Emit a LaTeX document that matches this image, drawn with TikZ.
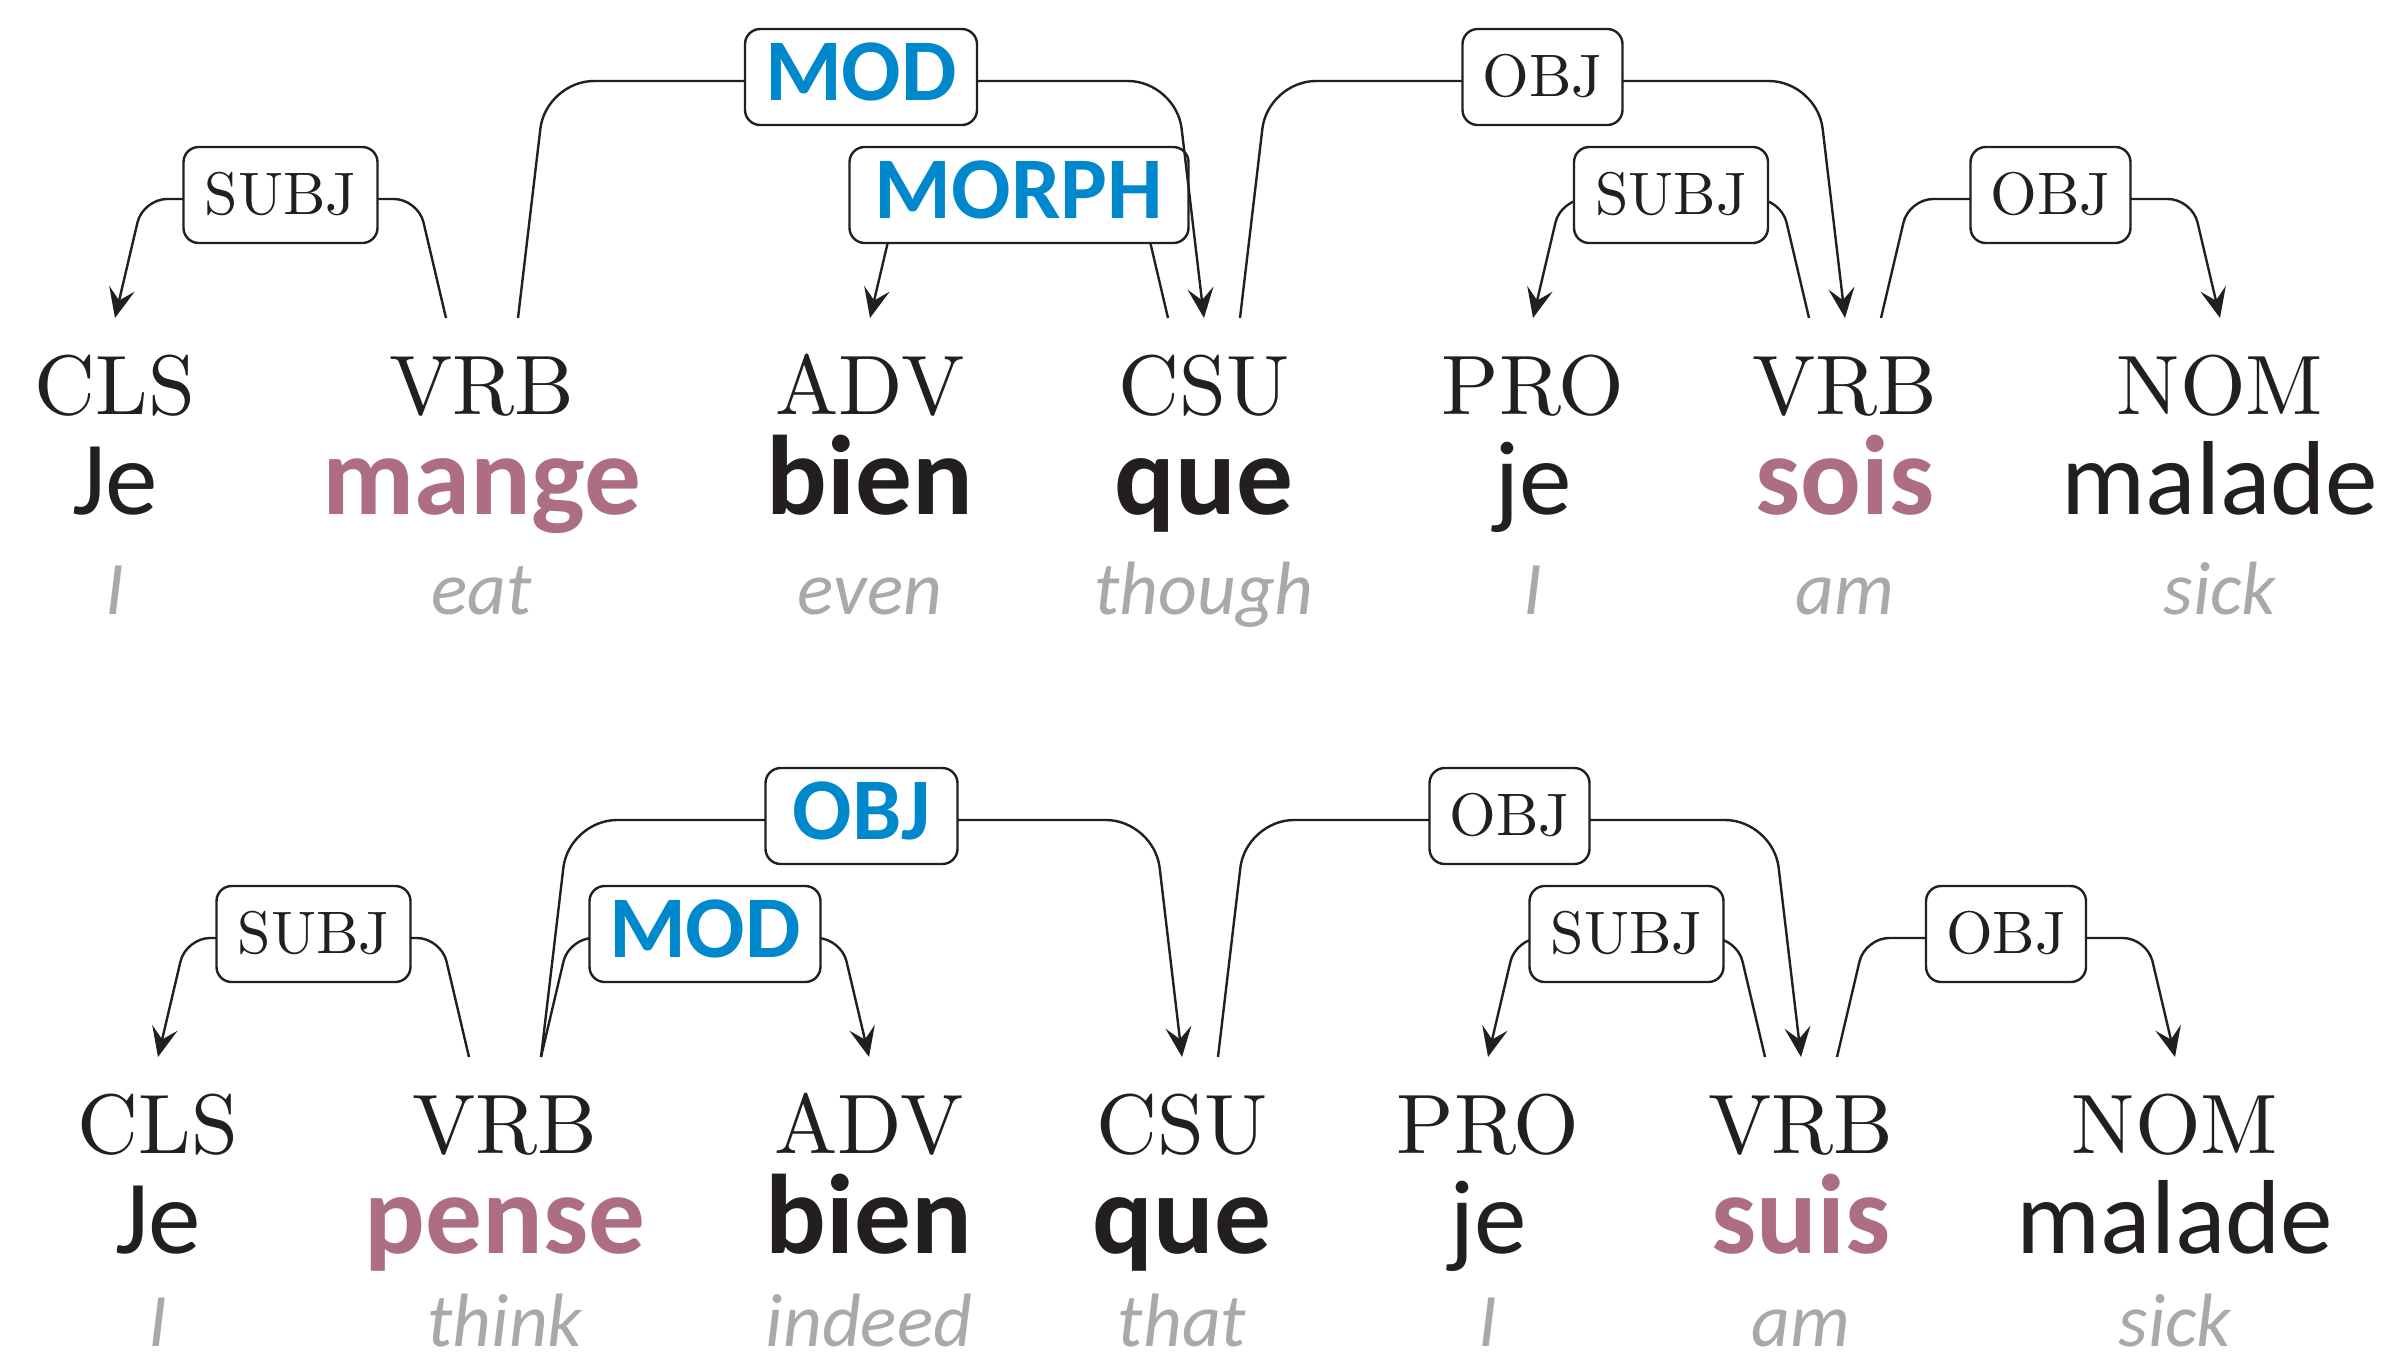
\documentclass[tikz,border=0pt]{standalone}
\usepackage{fontspec}
\usetikzlibrary{arrows.meta,calc}
\newfontfamily\wordfont{Carlito}
\definecolor{ink}{HTML}{231F20}
\definecolor{verbcol}{HTML}{AD6D82}
\definecolor{relblue}{HTML}{0088CC}
\definecolor{glosscol}{HTML}{A7A9AC}
% Latin Modern at its 10pt design, enlarged
\newcommand\tagtext[1]{\scalebox{2.11}{#1}}
\newcommand\labtext[1]{\scalebox{1.5}{#1}}
\tikzset{
  x=0.25pt, y=-0.25pt,
  tag/.style={anchor=base, inner sep=0pt, text=ink, font=\fontsize{10}{12}\selectfont},
  word/.style={anchor=base, inner sep=0pt, text=ink, font=\wordfont\fontsize{26.3}{32}\selectfont},
  headword/.style={word, font=\wordfont\bfseries\fontsize{28.3}{32}\selectfont},
  verbword/.style={headword, text=verbcol},
  glossword/.style={anchor=base, inner sep=0pt, text=glosscol, font=\wordfont\itshape\fontsize{18.9}{22}\selectfont},
  dep/.style={draw=ink, line width=0.6pt, -{Stealth[length=7.5pt,width=6.5pt,inset=3pt]}},
  lvlone/.style={rounded corners=6pt},
  lvltwo/.style={rounded corners=12pt},
  lab/.style={draw=ink, line width=0.6pt, fill=white, rounded corners=3.8pt,
    minimum height=24pt, inner xsep=0pt, inner ysep=0pt, text=ink,
    font=\fontsize{10}{12}\selectfont, text depth=1pt, yshift=1pt},
  labhi/.style={lab, text=relblue, font=\wordfont\bfseries\fontsize{22}{26}\selectfont, text depth=2.5pt},
}
\begin{document}
\begin{tikzpicture}
\useasboundingbox (0,0) rectangle (2387,1361);

% ---------- first sentence ----------
\foreach \n/\x/\t/\s/\w/\g in {
  1/115/CLS/word/Je/I,
  2/482/VRB/verbword/mange/eat,
  3/870/ADV/headword/bien/even,
  4/1204/CSU/headword/que/though,
  5/1533/PRO/word/je/I,
  6/1845/VRB/verbword/sois/am,
  7/2220/NOM/word/malade/sick}{
  \node[tag] (tA\n) at (\x,414) {\tagtext{\t}};
  \node[\s] (wA\n) at (\x,514) {\w};
  \node[glossword] (gA\n) at (\x,614) {\g};
  \coordinate (inA\n) at ($(tA\n.base)+(0,-96)$);
  \coordinate (outA\n l) at ($(tA\n.base)+(-36,-96)$);
  \coordinate (outA\n r) at ($(tA\n.base)+(36,-96)$);
}

\draw[dep, lvlone] (outA2l) -- ++(-28,-119)
  -- node[lab, minimum width=48.5pt] (rA1) {\labtext{SUBJ}} ($(inA1)+(28,-119)$) -- (inA1);
\draw[dep, lvlone] (outA4l) -- ++(-28,-119)
  -- node[labhi, minimum width=84.75pt] (rA2) {MORPH} ($(inA3)+(28,-119)$) -- (inA3);
\draw[dep, lvltwo] (outA2r) -- ++(28,-237)
  -- node[labhi, minimum width=58pt] (rA3) {MOD} ($(inA4)+(-28,-237)$) -- (inA4);
\draw[dep, lvltwo] (outA4r) -- ++(28,-237)
  -- node[lab, minimum width=40pt] (rA4) {\labtext{OBJ}} ($(inA6)+(-28,-237)$) -- (inA6);
\draw[dep, lvlone] (outA6l) -- ++(-28,-119)
  -- node[lab, minimum width=48.5pt] (rA5) {\labtext{SUBJ}} ($(inA5)+(28,-119)$) -- (inA5);
\draw[dep, lvlone] (outA6r) -- ++(28,-119)
  -- node[lab, minimum width=40pt] (rA6) {\labtext{OBJ}} ($(inA7)+(-28,-119)$) -- (inA7);

% ---------- second sentence ----------
\foreach \n/\x/\t/\s/\w/\g in {
  1/158/CLS/word/Je/I,
  2/505/VRB/verbword/pense/think,
  3/869/ADV/headword/bien/indeed,
  4/1182/CSU/headword/que/that,
  5/1488/PRO/word/je/I,
  6/1801/VRB/verbword/suis/am,
  7/2175/NOM/word/malade/sick}{
  \node[tag] (tB\n) at (\x,1153) {\tagtext{\t}};
  \node[\s] (wB\n) at (\x,1253) {\w};
  \node[glossword] (gB\n) at (\x,1346) {\g};
  \coordinate (inB\n) at ($(tB\n.base)+(0,-96)$);
  \coordinate (outB\n l) at ($(tB\n.base)+(-36,-96)$);
  \coordinate (outB\n r) at ($(tB\n.base)+(36,-96)$);
}

\draw[dep, lvlone] (outB2l) -- ++(-28,-119)
  -- node[lab, minimum width=48.5pt] (rB1) {\labtext{SUBJ}} ($(inB1)+(28,-119)$) -- (inB1);
\draw[dep, lvlone] (outB2r) -- ++(28,-119)
  -- node[labhi, minimum width=57.75pt] (rB2) {MOD} ($(inB3)+(-28,-119)$) -- (inB3);
\draw[dep, lvltwo] (outB2r) -- ++(28,-237)
  -- node[labhi, minimum width=48pt] (rB3) {OBJ} ($(inB4)+(-28,-237)$) -- (inB4);
\draw[dep, lvltwo] (outB4r) -- ++(28,-237)
  -- node[lab, minimum width=40pt] (rB4) {\labtext{OBJ}} ($(inB6)+(-28,-237)$) -- (inB6);
\draw[dep, lvlone] (outB6l) -- ++(-28,-119)
  -- node[lab, minimum width=48.5pt] (rB5) {\labtext{SUBJ}} ($(inB5)+(28,-119)$) -- (inB5);
\draw[dep, lvlone] (outB6r) -- ++(28,-119)
  -- node[lab, minimum width=40pt] (rB6) {\labtext{OBJ}} ($(inB7)+(-28,-119)$) -- (inB7);
\end{tikzpicture}
\end{document}
